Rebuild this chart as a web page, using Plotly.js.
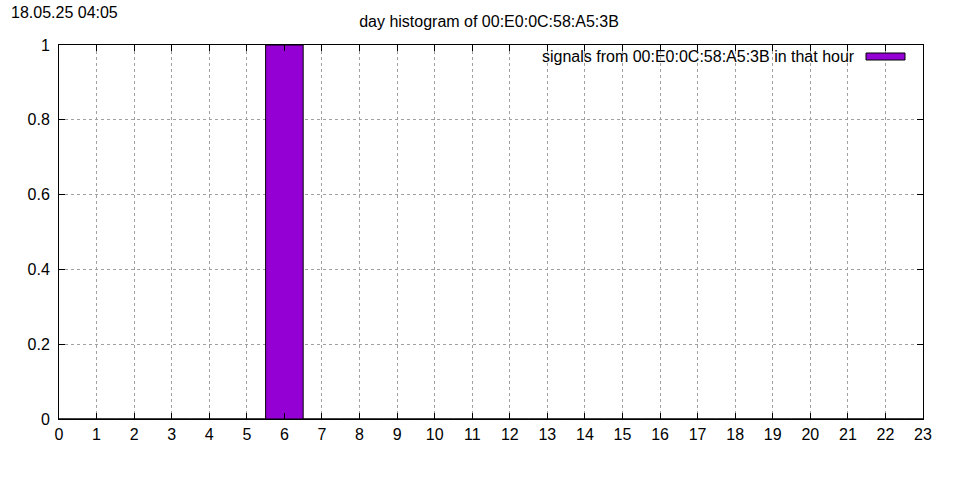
<!DOCTYPE html>
<html>
<head>
<meta charset="utf-8">
<script src="https://cdn.plot.ly/plotly-3.0.1.min.js"></script>
<style>html,body{margin:0;padding:0;background:#fff;}#chart{width:960px;height:480px;}</style>
</head>
<body>
<div id="chart"></div>
<script>
const hours = [0,1,2,3,4,5,6,7,8,9,10,11,12,13,14,15,16,17,18,19,20,21,22,23];
const signals = [0,0,0,0,0,0,1,0,0,0,0,0,0,0,0,0,0,0,0,0,0,0,0,0];
const yTicks = [0,0.2,0.4,0.6,0.8,1];
const yTickText = ['0','0.2','0.4','0.6','0.8','1'];
const chartTitle = 'day histogram of 00:E0:0C:58:A5:3B';
const seriesName = 'signals from 00:E0:0C:58:A5:3B in that hour';
const stamp = '18.05.25 04:05';

const font = 'Liberation Sans, Arial, sans-serif';
const barColor = '#9400d3';

const trace = {
  type: 'bar',
  x: hours,
  y: signals,
  width: 1,
  name: seriesName,
  marker: {color: barColor, line: {color: '#000', width: 1}},
  showlegend: false,
  hoverinfo: 'skip'
};

const axisCommon = {
  showline: true, linecolor: '#000', linewidth: 1, mirror: 'ticks',
  ticks: 'inside', ticklen: 6, tickcolor: '#000', tickwidth: 1,
  showgrid: true, gridcolor: '#a0a0a0', griddash: 'dot', gridwidth: 1,
  zeroline: false, tickfont: {family: font, size: 16, color: '#000'}
};

const layout = {
  width: 960, height: 480,
  margin: {l: 59, r: 37, t: 45, b: 61},
  paper_bgcolor: '#fff', plot_bgcolor: '#fff',
  font: {family: font, size: 16, color: '#000'},
  title: {text: chartTitle, xref: 'container', x: 489/960, xanchor: 'center', yref: 'container', y: 1 - 21/480, yanchor: 'middle', font: {family: font, size: 16, color: '#000'}},
  xaxis: Object.assign({}, axisCommon, {range: [0, 23], tickmode: 'array', tickvals: hours, ticktext: hours.map(String), ticklabelstandoff: 1}),
  yaxis: Object.assign({}, axisCommon, {range: [0, 1], tickmode: 'array', tickvals: yTicks, ticktext: yTickText, ticklabelstandoff: 5}),
  showlegend: false,
  annotations: [
    {text: stamp, xref: 'paper', yref: 'paper', x: (9-59)/864, y: (419-12)/374, xanchor: 'left', yanchor: 'middle', showarrow: false, font: {family: font, size: 16, color: '#000'}},
    {text: seriesName, xref: 'paper', yref: 'paper', x: (857-59)/864, y: (419-56)/374, xanchor: 'right', yanchor: 'middle', showarrow: false, font: {family: font, size: 16, color: '#000'}}
  ],
  shapes: [
    {type: 'rect', xref: 'paper', yref: 'paper', x0: (866-59)/864, x1: (905-59)/864, y0: (419-60)/374, y1: (419-53)/374, fillcolor: barColor, line: {color: '#000', width: 1}}
  ]
};

Plotly.newPlot('chart', [trace], layout, {staticPlot: true, displayModeBar: false});
</script>
</body>
</html>
